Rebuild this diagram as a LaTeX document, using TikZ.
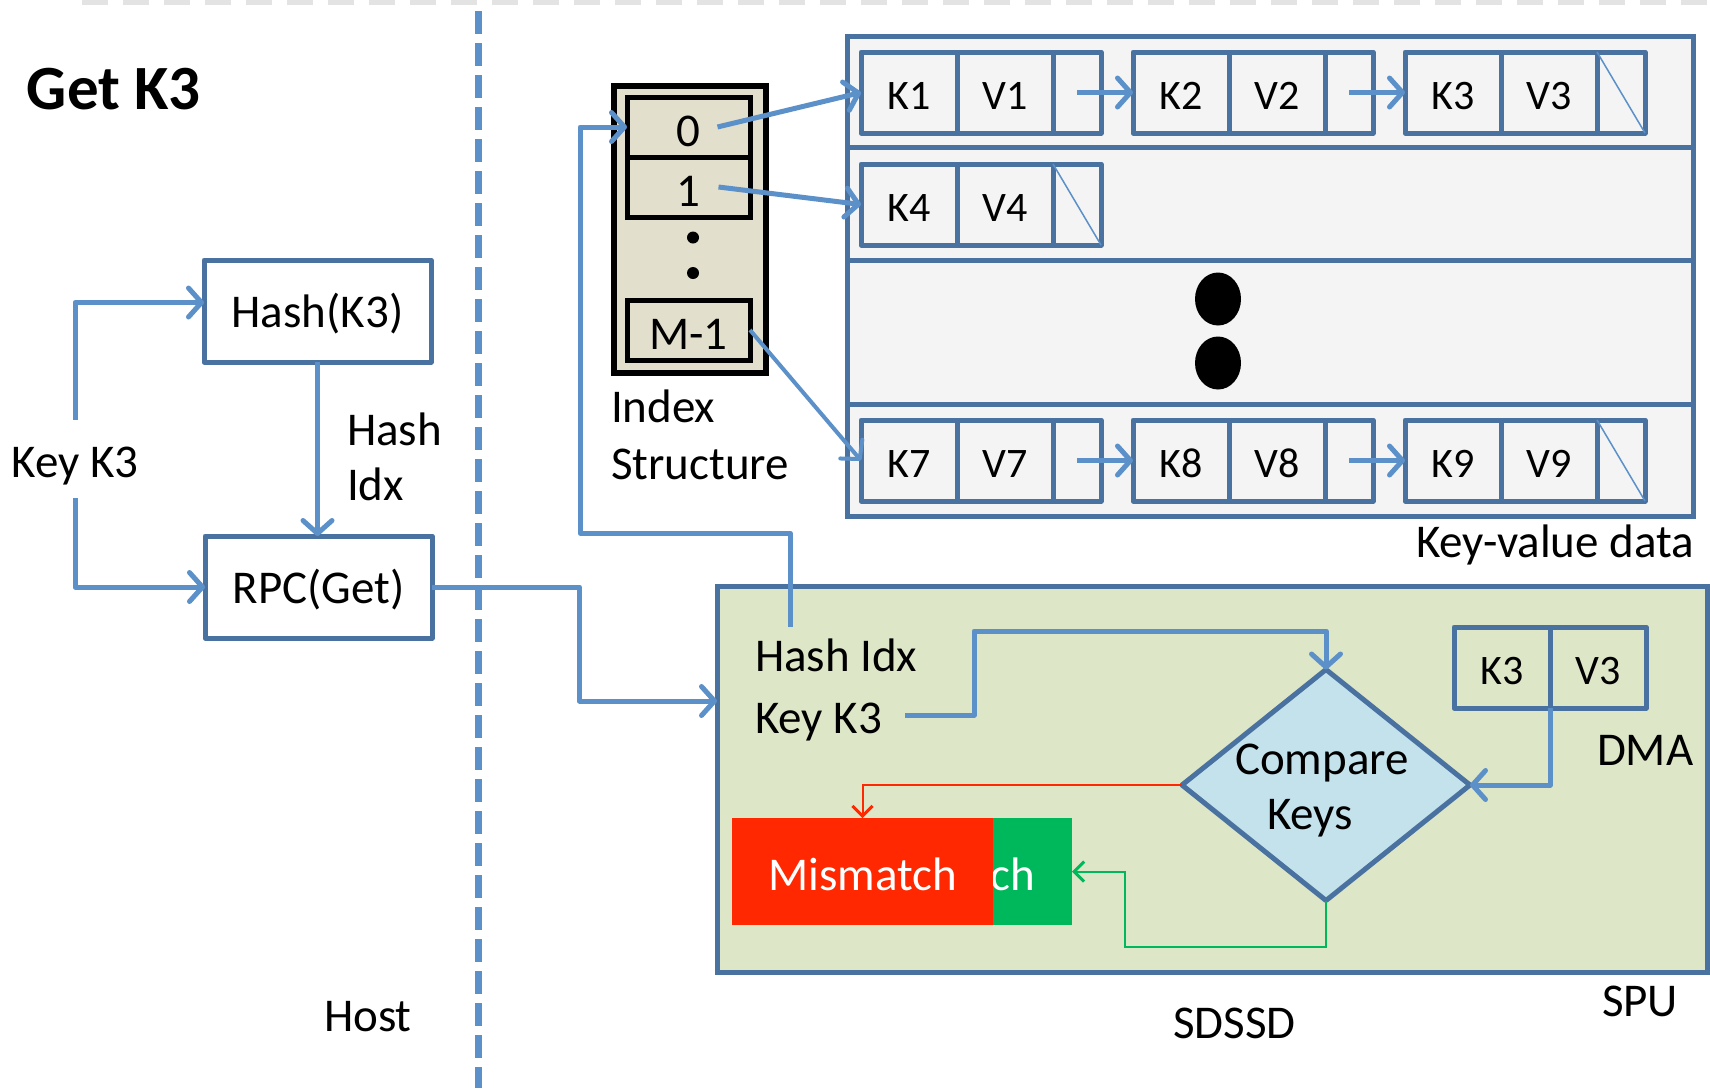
\documentclass[tikz,border=0pt]{standalone}
\usepackage{fontspec}
\setmainfont{Carlito}
\usetikzlibrary{arrows.meta,shapes.geometric,calc}

\definecolor{connblue}{RGB}{91,144,200}
\definecolor{boxblue}{RGB}{74,114,160}
\definecolor{kvfill}{RGB}{244,244,244}
\definecolor{spufill}{RGB}{222,230,200}
\definecolor{idxfill}{RGB}{226,223,205}
\definecolor{cmpfill}{RGB}{196,226,236}
\definecolor{mmred}{RGB}{255,40,0}
\definecolor{okgreen}{RGB}{0,184,92}

\newcommand\fsmain{\fontsize{47}{57}\selectfont}
\newcommand\fscell{\fontsize{42}{50}\selectfont}
\newcommand\fstitle{\fontsize{63}{70}\selectfont\bfseries}

% one key/value/pointer record of a bucket chain
\newcommand\kvgroup[5]{%
  \node[kcell, anchor=north west] (#1k) at (#2,#3) {#4};
  \node[kcell, anchor=north west] (#1v) at (#1k.north east) {#5};
  \node[pcell, anchor=north west] (#1p) at (#1v.north east) {};
}

\begin{document}
\begin{tikzpicture}[x=1pt,y=-1pt,
  every node/.style={inner sep=0pt, outer sep=0pt},
  txt/.style={font=\fsmain, text=black},
  conn/.style={draw=connblue, line width=5pt, line join=round,
    -{Straight Barb[length=13pt,width=29pt,line cap=round,line join=round]}},
  hostbox/.style={draw=boxblue, line width=5pt, fill=white, line join=round,
    minimum width=227pt, minimum height=102pt, font=\fsmain,
    text height=32pt, text depth=0pt},
  kcell/.style={draw=boxblue, line width=5pt, line join=round,
    minimum width=96pt, minimum height=81pt, font=\fscell,
    text height=34pt, text depth=0pt},
  pcell/.style={kcell, minimum width=48pt},
  icell/.style={draw=black, line width=5pt, fill=idxfill,
    minimum width=123pt, minimum height=60pt, font=\fsmain,
    text height=38pt, text depth=0pt},
  nullline/.style={draw=connblue, line width=1.5pt},
  redline/.style={draw=mmred, line width=2pt,
    -{Straight Barb[length=10pt,width=20pt,line width=3pt]}},
  greenline/.style={draw=okgreen, line width=2pt,
    -{Straight Barb[length=10pt,width=20pt,line width=3pt]}},
  outcome/.style={minimum height=107pt, anchor=north west, text=white,
    font=\fsmain, text height=37pt, text depth=0pt},
]
\useasboundingbox (0,0) rectangle (1710,1088);

% page-top dashes and host/device divider
\draw[black!11, line width=10pt, dash pattern=on 26pt off 15pt] (82,0) -- (1710,0);
\draw[connblue, line width=7pt, dash pattern=on 23pt off 9pt] (478,11) -- (478,1088);

% ---------------- host side ----------------
\node[font=\fstitle, anchor=base west] (title) at (27,109) {Get K3};
\node[hostbox, anchor=north west] (hash) at (204,260) {Hash(K3)};
\node[hostbox, anchor=north west] (rpc) at (205,536) {RPC(Get)};
\node[txt, anchor=base] (keyl) at (75,477) {Key K3};
\node[txt, anchor=north west, align=left] (hidxl) at (347,413) {Hash\\[-2pt]Idx};
\node[txt, anchor=base west] (host) at (324,1031) {Host};

\coordinate (keytop) at (75,420);
\coordinate (keybot) at (75,498);
\draw[conn] (keytop) |- ($(hash.west)+(0,-8.5)$);
\draw[conn] (keybot) |- (rpc.west);
\draw[conn] (hash.south) -- (hash.south |- rpc.north);

% ---------------- index structure ----------------
\node[draw=black, line width=5.5pt, fill=idxfill, minimum width=152pt,
      minimum height=287pt, anchor=north west] (idx) at (614,86) {};
\node[icell, anchor=north west] (i0) at (627,97) {0};
\node[icell, anchor=north west] (i1) at (i0.south west) {1};
\node[icell, anchor=north west] (i2) at (627,300) {M-1};
\fill (693,237.5) circle (6pt);
\fill (693,273) circle (6pt);
\node[txt, anchor=north west, align=left] (idxl) at (611,390) {Index\\Structure};

% ---------------- key-value data ----------------
\node[draw=boxblue, line width=5pt, fill=kvfill, minimum width=846pt,
      minimum height=480pt, anchor=north west] (kvdata) at (847,36) {};
\foreach \yy in {147.5,260,404}
  \draw[boxblue, line width=5pt] (kvdata.west |- 0,\yy) -- (kvdata.east |- 0,\yy);

\kvgroup{a}{861}{52}{K1}{V1}
\kvgroup{b}{1133}{52}{K2}{V2}
\kvgroup{c}{1405}{52}{K3}{V3}
\kvgroup{d}{861}{164}{K4}{V4}
\kvgroup{e}{861}{420}{K7}{V7}
\kvgroup{f}{1133}{420}{K8}{V8}
\kvgroup{g}{1405}{420}{K9}{V9}

\draw[conn] (ap.center) -- (bk.west);
\draw[conn] (bp.center) -- (ck.west);
\draw[conn] (ep.center) -- (fk.west);
\draw[conn] (fp.center) -- (gk.west);
\draw[nullline] (cp.north west) -- (cp.south east);
\draw[nullline] (dp.north west) -- (dp.south east);
\draw[nullline] (gp.north west) -- (gp.south east);

\fill (1218,299) ellipse (23pt and 26.5pt);
\fill (1218,363) ellipse (23pt and 26.5pt);

\node[txt, anchor=base east] (kvl) at (1694,557) {Key-value data};

\draw[conn] ($(i0.center)+(29,0)$) -- (ak.west);
\draw[conn] ($(i1.center)+(30,0)$) -- (dk.west);
\draw[conn, line width=4pt] (i2.east) -- (ek.west);

% ---------------- storage processing unit ----------------
\node[draw=boxblue, line width=5pt, fill=spufill, minimum width=990pt,
      minimum height=386pt, anchor=north west] (spu) at (717,586) {};
\node[txt, anchor=base west] (hidx) at (755,671) {Hash Idx};
\node[txt, anchor=base west] (kk3) at (755,733) {Key K3};

\node[kcell, anchor=north west] (dmak) at (1454,627) {K3};
\node[kcell, anchor=north west] (dmav) at (dmak.north east) {V3};
\node[txt, anchor=base west] (dmal) at (1597,765) {DMA};

\node[diamond, draw=boxblue, line width=5pt, fill=cmpfill, line join=round,
      minimum width=288pt, minimum height=231pt] (cmp) at (1326,785) {};
\node[txt, align=center] (cmpl) at (1322,791) {Compare\\[-2pt]Keys\hspace*{24pt}};

\node[outcome, fill=okgreen, minimum width=195pt] (match) at (877,818) {Match};
\node[outcome, fill=mmred, minimum width=261pt] (mm) at (732,818) {Mismatch};

\node[txt, anchor=base west] (spul) at (1602,1016) {SPU};
\node[txt, anchor=base west] (sdssd) at (1173,1038) {SDSSD};

% flows into and inside the SPU
\draw[conn] (rpc.east) -| (579.5,701) -- (spu.west |- 0,701);
\coordinate (hidxtop) at (790,627);
\draw[conn] (hidxtop) |- (580,533) |- (i0.west);
\coordinate (keyout) at (905,715);
\draw[conn] (keyout) -| (974,631) -| (cmp.north);
\draw[conn] (dmav.south west) |- (cmp.east);
\draw[redline] (cmp.west) -| (mm.north);
\draw[greenline] (cmp.south) |- (1125,947) |- (match.east);

\end{tikzpicture}
\end{document}
